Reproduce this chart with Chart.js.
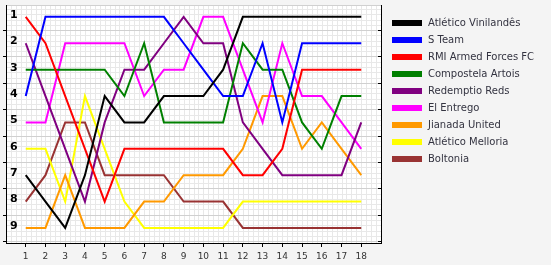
<!DOCTYPE html>
<html>
<head>
<meta charset="utf-8">
<script src="https://cdn.jsdelivr.net/npm/chart.js@4"></script>
<style>
  html, body { margin: 0; padding: 0; background: #f4f4f4; }
  #wrap { position: relative; width: 551px; height: 265px; }
  #legend { position: absolute; left: 382px; top: 14px; font: 10px "DejaVu Sans", sans-serif; color: #333340; }
  .item { height: 17px; display: flex; align-items: center; white-space: nowrap; }
  .swatch { width: 30px; height: 6px; margin-left: 10px; margin-right: 6px; }
</style>
</head>
<body>
<div id="wrap">
  <canvas id="standings" width="551" height="265"></canvas>
  <div id="legend"></div>
</div>
<script>
// rounds played and league position after each round
const rounds = [1, 2, 3, 4, 5, 6, 7, 8, 9, 10, 11, 12, 13, 14, 15, 16, 17, 18];
const positionTicks = [1, 2, 3, 4, 5, 6, 7, 8, 9];

const teams = ['Atlético Vinilandês', 'S Team', 'RMI Armed Forces FC', 'Compostela Artois',
  'Redemptio Reds', 'El Entrego', 'Jianada United', 'Atlético Melloria', 'Boltonia'];
const teamColors = ['#000000', '#0000ff', '#ff0000', '#008000', '#800080',
  '#ff00ff', '#ff9900', '#ffff00', '#993333'];

const atleticoVinilandes = [7, 8, 9, 7, 4, 5, 5, 4, 4, 4, 3, 1, 1, 1, 1, 1, 1, 1];
const sTeam              = [4, 1, 1, 1, 1, 1, 1, 1, 2, 3, 4, 4, 2, 5, 2, 2, 2, 2];
const rmiArmedForces     = [1, 2, 4, 6, 8, 6, 6, 6, 6, 6, 6, 7, 7, 6, 3, 3, 3, 3];
const compostelaArtois   = [3, 3, 3, 3, 3, 4, 2, 5, 5, 5, 5, 2, 3, 3, 5, 6, 4, 4];
const redemptioReds      = [2, 4, 6, 8, 5, 3, 3, 2, 1, 2, 2, 5, 6, 7, 7, 7, 7, 5];
const elEntrego          = [5, 5, 2, 2, 2, 2, 4, 3, 3, 1, 1, 3, 5, 2, 4, 4, 5, 6];
const jianadaUnited      = [9, 9, 7, 9, 9, 9, 8, 8, 7, 7, 7, 6, 4, 4, 6, 5, 6, 7];
const atleticoMelloria   = [6, 6, 8, 4, 6, 8, 9, 9, 9, 9, 9, 8, 8, 8, 8, 8, 8, 8];
const boltonia           = [8, 7, 5, 5, 7, 7, 7, 7, 8, 8, 8, 9, 9, 9, 9, 9, 9, 9];

const series = [atleticoVinilandes, sTeam, rmiArmedForces, compostelaArtois,
  redemptioReds, elEntrego, jianadaUnited, atleticoMelloria, boltonia];

// graph-paper background, half-position ticks and frame
const paperGrid = {
  id: 'paperGrid',
  beforeDraw(chart) {
    const { ctx, chartArea: a, scales: { x, y } } = chart;
    ctx.save();
    ctx.fillStyle = '#ffffff';
    ctx.fillRect(a.left, a.top, a.right - a.left, a.bottom - a.top);
    ctx.lineWidth = 1;

    ctx.strokeStyle = '#e8e8e8';
    ctx.beginPath();
    for (let v = x.min; v <= x.max + 1e-9; v += 0.25) {
      const px = Math.round(x.getPixelForValue(v)) + 0.5;
      ctx.moveTo(px, a.top); ctx.lineTo(px, a.bottom);
    }
    for (let k = -5; k < 60; k++) {
      const v = 0.5 + k * 0.2;
      if (v < y.min || v > y.max) continue;
      const py = Math.round(y.getPixelForValue(v)) + 0.5;
      ctx.moveTo(a.left, py); ctx.lineTo(a.right, py);
    }
    ctx.stroke();

    ctx.strokeStyle = '#d0d0d0';
    ctx.beginPath();
    for (let v = 1.5; v < y.max; v += 1) {
      const py = Math.round(y.getPixelForValue(v)) + 0.5;
      ctx.moveTo(a.left, py); ctx.lineTo(a.right, py);
    }
    ctx.moveTo(a.left, a.top + 0.5); ctx.lineTo(a.right, a.top + 0.5);
    ctx.stroke();

    ctx.strokeStyle = '#000000';
    ctx.beginPath();
    for (let v = 1.5; v < y.max; v += 1) {
      const py = Math.round(y.getPixelForValue(v)) + 0.5;
      ctx.moveTo(a.left - 3, py); ctx.lineTo(a.left, py);
      ctx.moveTo(a.right - 3, py); ctx.lineTo(a.right, py);
    }
    ctx.moveTo(Math.round(a.right) + 0.5, a.top); ctx.lineTo(Math.round(a.right) + 0.5, a.bottom);
    ctx.stroke();
    ctx.restore();
  }
};

new Chart(document.getElementById('standings'), {
  type: 'line',
  data: {
    datasets: teams.map((name, i) => ({
      label: name,
      data: rounds.map((r, j) => ({ x: r, y: series[i][j] })),
      borderColor: teamColors[i],
      backgroundColor: teamColors[i],
      borderWidth: 2,
      pointRadius: 0,
      tension: 0,
      fill: false
    }))
  },
  options: {
    responsive: false,
    animation: false,
    devicePixelRatio: 1,
    layout: { padding: { left: 6, right: 170, top: 5, bottom: 0 } },
    plugins: { legend: { display: false }, tooltip: { enabled: false } },
    scales: {
      x: {
        type: 'linear',
        min: 0,
        max: 19,
        afterBuildTicks: (s) => { s.ticks = rounds.map(v => ({ value: v })); },
        afterFit: (s) => { s.height = 22; s.paddingLeft = 0; s.paddingRight = 0; },
        grid: { drawOnChartArea: false, drawTicks: true, tickLength: 4, color: '#000000' },
        border: { display: true, color: '#000000', width: 1 },
        ticks: { padding: 4, color: '#333333', font: { family: 'DejaVu Sans', size: 9 }, maxRotation: 0 }
      },
      y: {
        type: 'linear',
        reverse: true,
        min: 0.55,
        max: 9.57,
        afterBuildTicks: (s) => { s.ticks = positionTicks.map(v => ({ value: v })); },
        afterFit: (s) => { s.width = 0; s.paddingTop = 0; s.paddingBottom = 0; },
        grid: { drawOnChartArea: false, drawTicks: false },
        border: { display: true, color: '#000000', width: 1 },
        ticks: { mirror: true, padding: 4, labelOffset: -2, color: '#000000', font: { family: 'DejaVu Sans', size: 11, weight: 'bold' } }
      }
    }
  },
  plugins: [paperGrid]
});

// legend built from the same team list
const legend = document.getElementById('legend');
teams.forEach((name, i) => {
  const row = document.createElement('div');
  row.className = 'item';
  const sw = document.createElement('span');
  sw.className = 'swatch';
  sw.style.background = teamColors[i];
  const label = document.createElement('span');
  label.textContent = name;
  row.appendChild(sw);
  row.appendChild(label);
  legend.appendChild(row);
});
</script>
</body>
</html>
